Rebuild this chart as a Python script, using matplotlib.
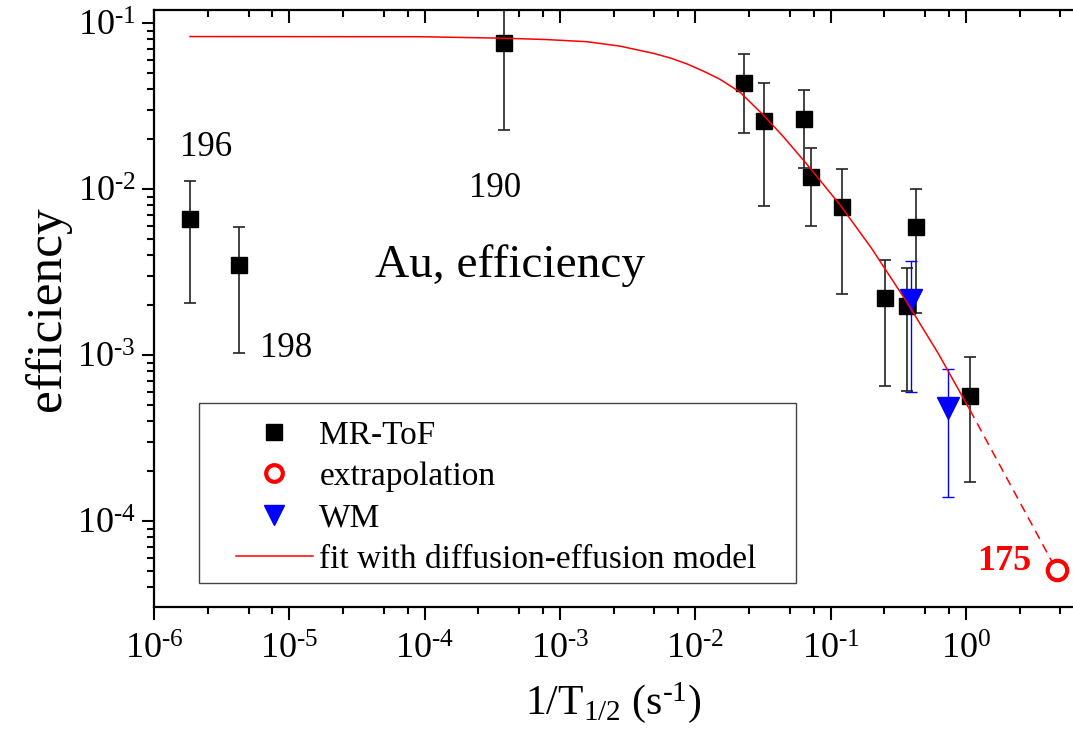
import matplotlib
matplotlib.use('Agg')
import matplotlib.pyplot as plt
import numpy as np
from matplotlib.lines import Line2D
from matplotlib.patches import Rectangle
from matplotlib.ticker import LogLocator, NullFormatter, FuncFormatter

plt.rcParams['font.family'] = ['Liberation Serif', 'DejaVu Serif']
plt.rcParams['mathtext.fontset'] = 'custom'
plt.rcParams['mathtext.rm'] = 'Liberation Serif'
plt.rcParams['mathtext.it'] = 'Liberation Serif:italic'
plt.rcParams['mathtext.bf'] = 'Liberation Serif:bold'
plt.rcParams['axes.unicode_minus'] = False

# MR-ToF points (1/T1/2 in s^-1, efficiency, symmetric error)
mrtof_x = [1.85e-6, 4.25e-6, 3.87e-4, 0.0231, 0.0324, 0.0637, 0.0718,
           0.1216, 0.253, 0.366, 0.428, 1.07]
mrtof_y = [6.6e-3, 3.47e-3, 0.0758, 0.0435, 0.0259, 0.0266, 0.0119,
           7.8e-3, 2.2e-3, 1.98e-3, 5.9e-3, 5.71e-4]
mrtof_err = [4.55e-3, 2.44e-3, 0.053, 0.0216, 0.018, 0.0131, 5.9e-3,
             5.45e-3, 1.55e-3, 1.37e-3, 4.1e-3, 4.0e-4]

# WM points
wm_x = [0.394, 0.743]
wm_y = [2.15e-3, 4.8e-4]
wm_err = [1.55e-3, 3.4e-4]

# extrapolated 175Au
extra_x = [4.7]
extra_y = [5.04e-5]

# diffusion-effusion fit
fit_x = [1.845e-6, 9.33e-5, 3.89e-4, 7.94e-4, 1.585e-3, 2.754e-3, 4.898e-3,
         6.607e-3, 8.71e-3, 0.01148, 0.01514, 0.02138, 0.03162, 0.04467,
         0.06607, 0.1175, 0.1995, 0.3631, 0.631, 1.072]
fit_y = [0.08318, 0.08299, 0.08128, 0.0798, 0.07745, 0.07295, 0.06592,
         0.06166, 0.05689, 0.05152, 0.04613, 0.03855, 0.02818, 0.0208,
         0.01432, 8.054e-3, 4.446e-3, 2.113e-3, 1.012e-3, 4.677e-4]
# dashed extrapolation of the fit down to 175Au
ext_x = [1.072, 4.7]
ext_y = [4.677e-4, 5.04e-5]


def pow10(v, pos):
    e = int(round(np.log10(v)))
    if e < 0:
        return r'$10^{\text{-}%d}$' % (-e)
    return r'$10^{%d}$' % e


fig = plt.figure(figsize=(10.73, 7.35), dpi=100)
ax = fig.add_axes([154 / 1073, 128 / 735, 919 / 1073, 597 / 735])

ax.errorbar(mrtof_x, mrtof_y, yerr=mrtof_err, fmt='s', color='black',
            ms=11.3, ecolor='#222222', elinewidth=1.2, capsize=4,
            capthick=1.2, zorder=3)
ax.errorbar(wm_x, wm_y, yerr=wm_err, fmt='v', color='blue', ms=16,
            ecolor='blue', elinewidth=1.0, capsize=4, capthick=1.0, zorder=4)
ax.plot(fit_x, fit_y, color='red', lw=1.1, zorder=5)
ax.plot(ext_x, ext_y, color='red', lw=1.1, ls=(0, (6, 4)), zorder=5)
ax.plot(extra_x, extra_y, 'o', ms=14, mfc='white', mec='red', mew=3,
        zorder=6)

ax.set_xscale('log')
ax.set_yscale('log')
ax.set_xlim(1e-6, 10 ** (919 / 135.3 - 6))
ax.set_ylim(10 ** (-1 - 584 / 166), 10 ** (-1 + 13.3 / 166))

ax.xaxis.set_major_locator(LogLocator(base=10, numticks=20))
ax.xaxis.set_major_formatter(FuncFormatter(pow10))
ax.xaxis.set_minor_locator(LogLocator(base=10, subs=(2.5, 5, 7.5), numticks=20))
ax.xaxis.set_minor_formatter(NullFormatter())
ax.yaxis.set_major_locator(LogLocator(base=10, numticks=20))
ax.yaxis.set_major_formatter(FuncFormatter(pow10))
ax.yaxis.set_minor_locator(LogLocator(base=10, subs=np.arange(2, 10), numticks=20))
ax.yaxis.set_minor_formatter(NullFormatter())

for s in ax.spines.values():
    s.set_linewidth(1.6)
ax.spines['right'].set_visible(False)
ax.tick_params(which='major', direction='out', length=9, width=1.5,
               labelsize=26, pad=4)
ax.tick_params(which='minor', direction='out', length=5, width=1.5)
ax.tick_params(axis='x', which='major', pad=10)

# top axis ticks point inward
top = ax.twiny()
top.set_xscale('log')
top.set_xlim(ax.get_xlim())
top.xaxis.set_major_locator(LogLocator(base=10, numticks=20))
top.xaxis.set_minor_locator(LogLocator(base=10, subs=(2.5, 5, 7.5), numticks=20))
top.tick_params(which='both', direction='in', labeltop=False, width=1.5)
top.tick_params(which='major', length=9)
top.tick_params(which='minor', length=5)
top.xaxis.set_minor_formatter(NullFormatter())
for s in top.spines.values():
    s.set_visible(False)

ax.set_xlabel(r'1/T$_{1/2}$ (s$^{\text{-}1}$)', fontsize=30, labelpad=10)
ax.set_ylabel('efficiency', fontsize=37, labelpad=4)

ax.text(2.42e-6, 0.0159, '196', fontsize=25, ha='center', va='baseline')
ax.text(9.46e-6, 9.77e-4, '198', fontsize=25, ha='center', va='baseline')
ax.text(3.31e-4, 9.0e-3, '190', fontsize=25, ha='center', va='baseline')
ax.text(4.31e-4, 2.97e-3, 'Au, efficiency', fontsize=34, ha='center',
        va='baseline')
ax.text(1.91, 5.09e-5, '175', fontsize=26, fontweight='bold', color='red',
        ha='center', va='baseline')

# legend
ax.add_patch(Rectangle((0.049, 0.0402), 0.6497, 0.3015, transform=ax.transAxes,
                       fill=False, ec='#444444', lw=1.0, zorder=7))
handles = [
    Line2D([], [], ls='none', marker='s', color='black', ms=11),
    Line2D([], [], ls='none', marker='o', mfc='none', mec='red', mew=3, ms=12),
    Line2D([], [], ls='none', marker='v', color='blue', ms=14),
    Line2D([], [], color='red', lw=1.1),
]
labels = ['MR-ToF', 'extrapolation', 'WM', 'fit with diffusion-effusion model']
ax.legend(handles, labels, loc='upper left', bbox_to_anchor=(0.0892, 0.313),
          frameon=False, fontsize=24, handlelength=2.3, handletextpad=0.2,
          labelspacing=0.33, borderpad=0, borderaxespad=0)

fig.savefig('out.png', dpi=100)
